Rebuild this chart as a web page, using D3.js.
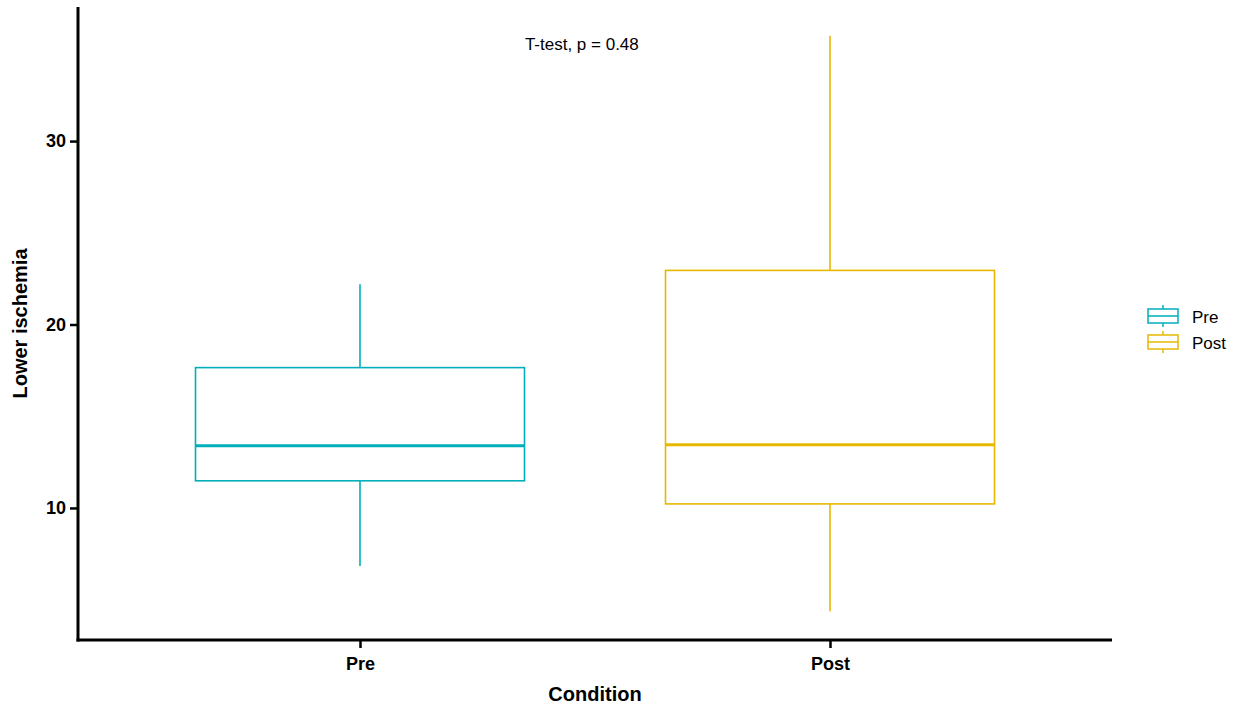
<!DOCTYPE html>
<html>
  <head>
    <script src="https://d3js.org/d3.v7.min.js"></script>
    <style>
      body { margin: 0; background: white; }
      text { font-family: "Liberation Sans", Arial, sans-serif; }
    </style>
  </head>
  <body>
    <svg id="chart" width="1241" height="710"></svg>
    <script>
      // Box stats
      var conditions = ["Pre", "Post"];
      var colors = ["#00AFBB", "#E7B800"];
      var whiskerLow = [6.83, 4.37];
      var q1 = [11.48, 10.22];
      var median = [13.39, 13.44];
      var q3 = [17.65, 22.95];
      var whiskerHigh = [22.19, 35.74];
      var yTicks = [10, 20, 30];
      var label = "T-test, p = 0.48";

      var svg = d3.select("#chart");
      var mLeft = 78, mRight = 1112, mTop = 7, mBottom = 640;

      // y range with 5% padding like ggplot
      var lo = d3.min(whiskerLow), hi = d3.max(whiskerHigh);
      var pad = (hi - lo) * 0.05;
      var y = d3.scaleLinear().domain([lo - pad, hi + pad]).range([mBottom, mTop]);

      // discrete x like ggplot: 1..n with 0.6 padding
      var x = d3.scaleLinear().domain([0.4, conditions.length + 0.6]).range([mLeft, mRight]);
      var boxW = (x(1.7) - x(1));

      var g = svg.append("g");

      conditions.forEach(function(c, i) {
        var cx = x(i + 1);
        var col = colors[i];
        // whiskers
        g.append("line").attr("x1", cx).attr("x2", cx)
          .attr("y1", y(q3[i])).attr("y2", y(whiskerHigh[i]))
          .attr("stroke", col).attr("stroke-width", 1.6);
        g.append("line").attr("x1", cx).attr("x2", cx)
          .attr("y1", y(q1[i])).attr("y2", y(whiskerLow[i]))
          .attr("stroke", col).attr("stroke-width", 1.6);
        // box
        g.append("rect")
          .attr("x", cx - boxW / 2).attr("width", boxW)
          .attr("y", y(q3[i])).attr("height", y(q1[i]) - y(q3[i]))
          .attr("fill", "white").attr("stroke", col).attr("stroke-width", 1.6);
        // median
        g.append("line")
          .attr("x1", cx - boxW / 2).attr("x2", cx + boxW / 2)
          .attr("y1", y(median[i])).attr("y2", y(median[i]))
          .attr("stroke", col).attr("stroke-width", 3);
      });

      // axes
      var yAxis = svg.append("g").attr("transform", "translate(" + mLeft + ",0)")
        .call(d3.axisLeft(y).tickValues(yTicks).tickSize(8).tickPadding(4));
      var xAxis = svg.append("g").attr("transform", "translate(0," + mBottom + ")")
        .call(d3.axisBottom(x).tickValues(conditions.map(function(d, i) { return i + 1; }))
          .tickFormat(function(d) { return conditions[d - 1]; }).tickSize(8).tickPadding(9));

      [yAxis, xAxis].forEach(function(a) {
        a.select(".domain").attr("stroke", "black").attr("stroke-width", 3);
        a.selectAll(".tick line").attr("stroke", "black").attr("stroke-width", 2.5);
        a.selectAll(".tick text").attr("fill", "black")
          .style("font-size", "18px").style("font-weight", "bold");
      });
      // ggplot axis lines have square ends, pad the corner
      yAxis.select(".domain").attr("d", "M0," + mTop + "V" + (mBottom + 1.5));
      xAxis.select(".domain").attr("d", "M" + (mLeft - 1.5) + ",0H" + mRight);

      // axis titles
      svg.append("text").attr("x", (mLeft + mRight) / 2).attr("y", 701)
        .attr("text-anchor", "middle").style("font-size", "20px").style("font-weight", "bold")
        .text("Condition");
      svg.append("text")
        .attr("transform", "translate(27," + (mTop + mBottom) / 2 + ") rotate(-90)")
        .attr("text-anchor", "middle").style("font-size", "20px").style("font-weight", "bold")
        .text("Lower ischemia");

      // test label
      svg.append("text").attr("x", x(1.472)).attr("y", 50)
        .attr("text-anchor", "middle").style("font-size", "17px").text(label);

      // legend
      var leg = svg.append("g").attr("transform", "translate(1148,305)");
      conditions.forEach(function(c, i) {
        var row = leg.append("g").attr("transform", "translate(0," + (i * 26) + ")");
        row.append("line").attr("x1", 15).attr("x2", 15).attr("y1", 0).attr("y2", 22)
          .attr("stroke", colors[i]).attr("stroke-width", 1.5);
        row.append("rect").attr("x", 0).attr("y", 4).attr("width", 30).attr("height", 14)
          .attr("fill", "white").attr("stroke", colors[i]).attr("stroke-width", 1.5);
        row.append("line").attr("x1", 0).attr("x2", 30).attr("y1", 11).attr("y2", 11)
          .attr("stroke", colors[i]).attr("stroke-width", 1.5);
        row.append("text").attr("x", 44).attr("y", 18).style("font-size", "17px").text(c);
      });
    </script>
  </body>
</html>
